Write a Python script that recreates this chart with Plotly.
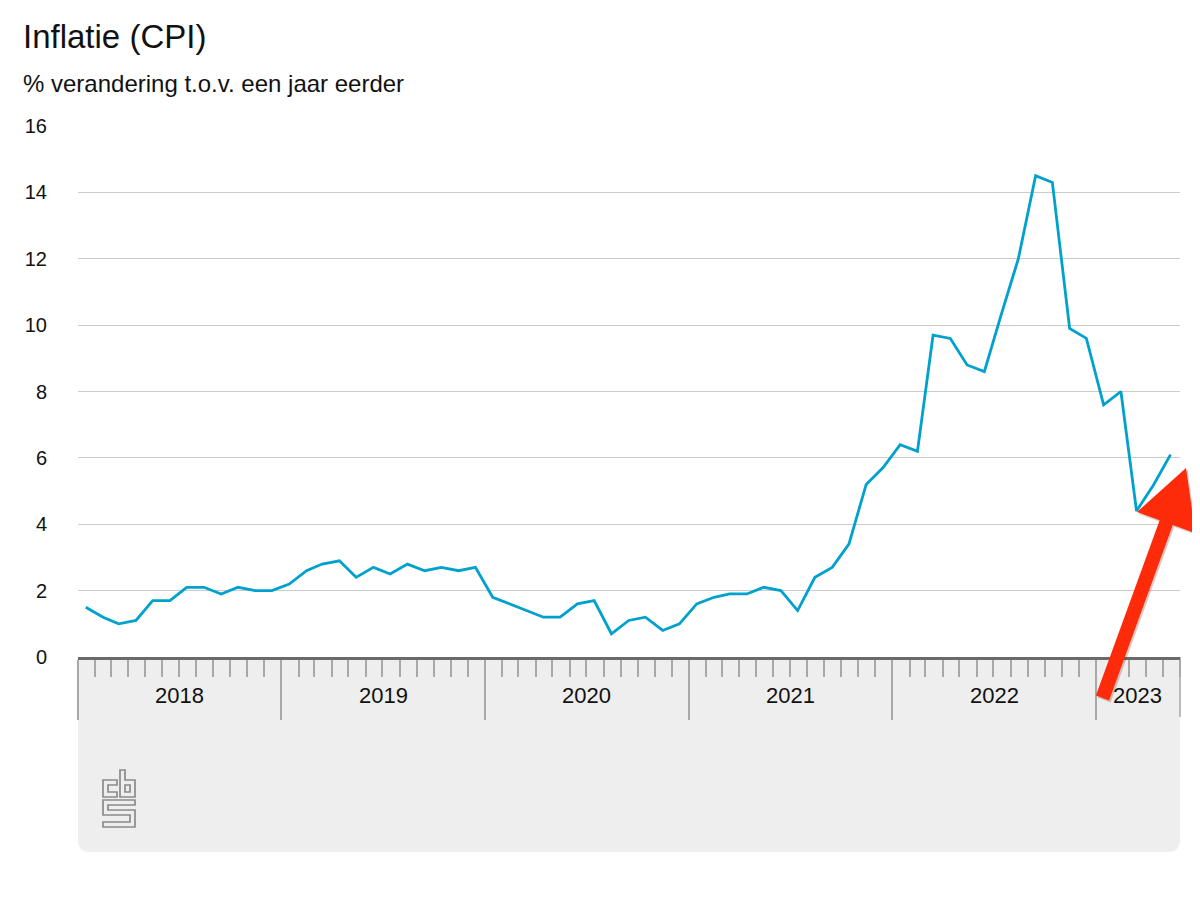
import pandas as pd
import plotly.graph_objects as go

# CPI, % change vs. one year earlier (monthly)
cpi_2018 = [1.5, 1.2, 1.0, 1.1, 1.7, 1.7, 2.1, 2.1, 1.9, 2.1, 2.0, 2.0]
cpi_2019 = [2.2, 2.6, 2.8, 2.9, 2.4, 2.7, 2.5, 2.8, 2.6, 2.7, 2.6, 2.7]
cpi_2020 = [1.8, 1.6, 1.4, 1.2, 1.2, 1.6, 1.7, 0.7, 1.1, 1.2, 0.8, 1.0]
cpi_2021 = [1.6, 1.8, 1.9, 1.9, 2.1, 2.0, 1.4, 2.4, 2.7, 3.4, 5.2, 5.7]
cpi_2022 = [6.4, 6.2, 9.7, 9.6, 8.8, 8.6, 10.3, 12.0, 14.5, 14.3, 9.9, 9.6]
cpi_2023 = [7.6, 8.0, 4.4, 5.2, 6.1]
years = ["2018", "2019", "2020", "2021", "2022", "2023"]
y_ticks = [0, 2, 4, 6, 8, 10, 12, 14, 16]

title = "Inflatie (CPI)"
subtitle = "% verandering t.o.v. een jaar eerder"

cpi = cpi_2018 + cpi_2019 + cpi_2020 + cpi_2021 + cpi_2022 + cpi_2023
month_start = pd.date_range("2018-01-01", periods=len(cpi), freq="MS")
dates = month_start + pd.Timedelta(days=14)
x_end = month_start[-1] + pd.offsets.MonthBegin(1)

FONT = "Helvetica, Liberation Sans, Arial, sans-serif"
BLUE = "#00a1cd"
TICK_GRAY = "#a8a8a8"

# the page puts the figure 8px in from the top-left corner;
# keep the page from overflowing the window
PAGE_OFF = 8
FIG_W, FIG_H = 1200 - PAGE_OFF, 900 - 2 * PAGE_OFF
# plot area in (screen) pixels
L, T, PW, PH = 78, 126, 1102, 531


def paper(x, y):
    return (x - L) / PW, (T + PH - y) / PH


def path(points, close=True):
    parts = []
    for i, (x, y) in enumerate(points):
        px, py = paper(x, y)
        parts.append(("M" if i == 0 else "L") + f"{px:.5f},{py:.5f}")
    return " ".join(parts) + (" Z" if close else "")


fig = go.Figure()
fig.add_trace(go.Scatter(
    x=dates, y=cpi, mode="lines",
    line=dict(color=BLUE, width=2.8),
    hoverinfo="x+y", showlegend=False,
))

shapes = []

# grey panel under the x axis, rounded bottom corners
r = 12
bx0, bx1, by0, by1 = 78, 1180, 657, 852
p = paper
box = (
    f"M{p(bx0, by0)[0]},{p(bx0, by0)[1]} L{p(bx1, by0)[0]},{p(bx1, by0)[1]} "
    f"L{p(bx1, by1 - r)[0]},{p(bx1, by1 - r)[1]} "
    f"Q{p(bx1, by1)[0]},{p(bx1, by1)[1]} {p(bx1 - r, by1)[0]},{p(bx1 - r, by1)[1]} "
    f"L{p(bx0 + r, by1)[0]},{p(bx0 + r, by1)[1]} "
    f"Q{p(bx0, by1)[0]},{p(bx0, by1)[1]} {p(bx0, by1 - r)[0]},{p(bx0, by1 - r)[1]} Z"
)
shapes.append(dict(type="path", xref="paper", yref="paper", path=box,
                   fillcolor="#eeeeee", line=dict(width=0), layer="below"))

# closing line at the right end of the axis
ex, ey0 = paper(1180, 657)
_, ey1 = paper(1180, 717)
shapes.append(dict(type="line", xref="paper", yref="paper", x0=ex, x1=ex, y0=ey0, y1=ey1,
                   line=dict(color=TICK_GRAY, width=1.5), layer="below"))

# cbs logo (outlined glyphs)
logo_c = [(103, 780), (117, 780), (117, 785), (108, 785), (108, 792), (117, 792), (117, 797), (103, 797)]
logo_b = [(120, 770), (125, 770), (125, 780), (135, 780), (135, 797), (120, 797)]
logo_b_in = [(125, 785), (130, 785), (130, 792), (125, 792)]
logo_s = [(103, 800), (135, 800), (135, 805), (108, 805), (108, 810), (135, 810), (135, 827),
          (103, 827), (103, 822), (130, 822), (130, 815), (103, 815)]
for g in (logo_c, logo_b, logo_b_in, logo_s):
    shapes.append(dict(type="path", xref="paper", yref="paper", path=path(g),
                       line=dict(color="#8a8a8a", width=1.7), fillcolor="rgba(0,0,0,0)"))

# red arrow
tail = (1102.5, 698.0)
tip = (1186.0, 468.0)
dx, dy = tip[0] - tail[0], tip[1] - tail[1]
ln = (dx ** 2 + dy ** 2) ** 0.5
ux, uy = dx / ln, dy / ln
nx, ny = -uy, ux
sw, hw, hl = 7.0, 31.0, 58.0
bx, by = tip[0] - ux * hl, tip[1] - uy * hl
arrow = [
    (tail[0] + nx * sw, tail[1] + ny * sw),
    (bx + nx * sw, by + ny * sw),
    (bx + nx * hw, by + ny * hw),
    tip,
    (bx - nx * hw, by - ny * hw),
    (bx - nx * sw, by - ny * sw),
    (tail[0] - nx * sw, tail[1] - ny * sw),
]
shadow = [(x + 1.5, y + 2.0) for x, y in arrow]
shapes.append(dict(type="path", xref="paper", yref="paper", path=path(shadow),
                   fillcolor="rgba(120,30,0,0.25)", line=dict(width=0)))
shapes.append(dict(type="path", xref="paper", yref="paper", path=path(arrow),
                   fillcolor="#fe2b0a", line=dict(width=0)))

# year labels centred in each (visible) year
annotations = []
for yr in years:
    start = pd.Timestamp(f"{yr}-01-01")
    end = min(pd.Timestamp(f"{int(yr) + 1}-01-01"), x_end)
    mid = start + (end - start) / 2
    annotations.append(dict(x=mid, y=paper(0, 695)[1], xref="x", yref="paper", text=yr,
                            showarrow=False, font=dict(size=22, color="#111111", family=FONT),
                            xanchor="center", yanchor="middle"))

annotations.append(dict(x=paper(21, 0)[0], y=paper(0, 36)[1], xref="paper", yref="paper",
                        text=title, showarrow=False, xanchor="left", yanchor="middle",
                        font=dict(size=33, color="#111111", family=FONT)))
annotations.append(dict(x=paper(21, 0)[0], y=paper(0, 83)[1], xref="paper", yref="paper",
                        text=subtitle, showarrow=False, xanchor="left", yanchor="middle",
                        font=dict(size=24, color="#111111", family=FONT)))

fig.update_layout(
    width=FIG_W, height=FIG_H,
    margin=dict(l=L - PAGE_OFF, r=FIG_W - (L - PAGE_OFF) - PW,
                t=T - PAGE_OFF, b=FIG_H - (T - PAGE_OFF) - PH),
    paper_bgcolor="white", plot_bgcolor="white",
    font=dict(family=FONT, color="#111111"),
    shapes=shapes, annotations=annotations,
    showlegend=False,
)
fig.update_xaxes(
    type="date", range=[month_start[0], x_end],
    showgrid=False, zeroline=False,
    showline=True, linecolor="#6a6a6a", linewidth=2.5,
    ticks="outside", ticklen=60, tickwidth=1.5, tickcolor=TICK_GRAY,
    tick0="2018-01-01", dtick="M12", showticklabels=False,
    minor=dict(ticks="outside", dtick="M1", tick0="2018-01-01",
               ticklen=17, tickwidth=1.5, tickcolor=TICK_GRAY, showgrid=False),
)
fig.update_yaxes(
    range=[0, 16], tickvals=y_ticks,
    showgrid=True, gridcolor="#cccccc", gridwidth=1,
    zeroline=False, showline=False,
    ticks="outside", ticklen=26, tickcolor="rgba(0,0,0,0)",
    tickfont=dict(size=20, color="#111111", family=FONT),
)

fig.write_html("out.html")
